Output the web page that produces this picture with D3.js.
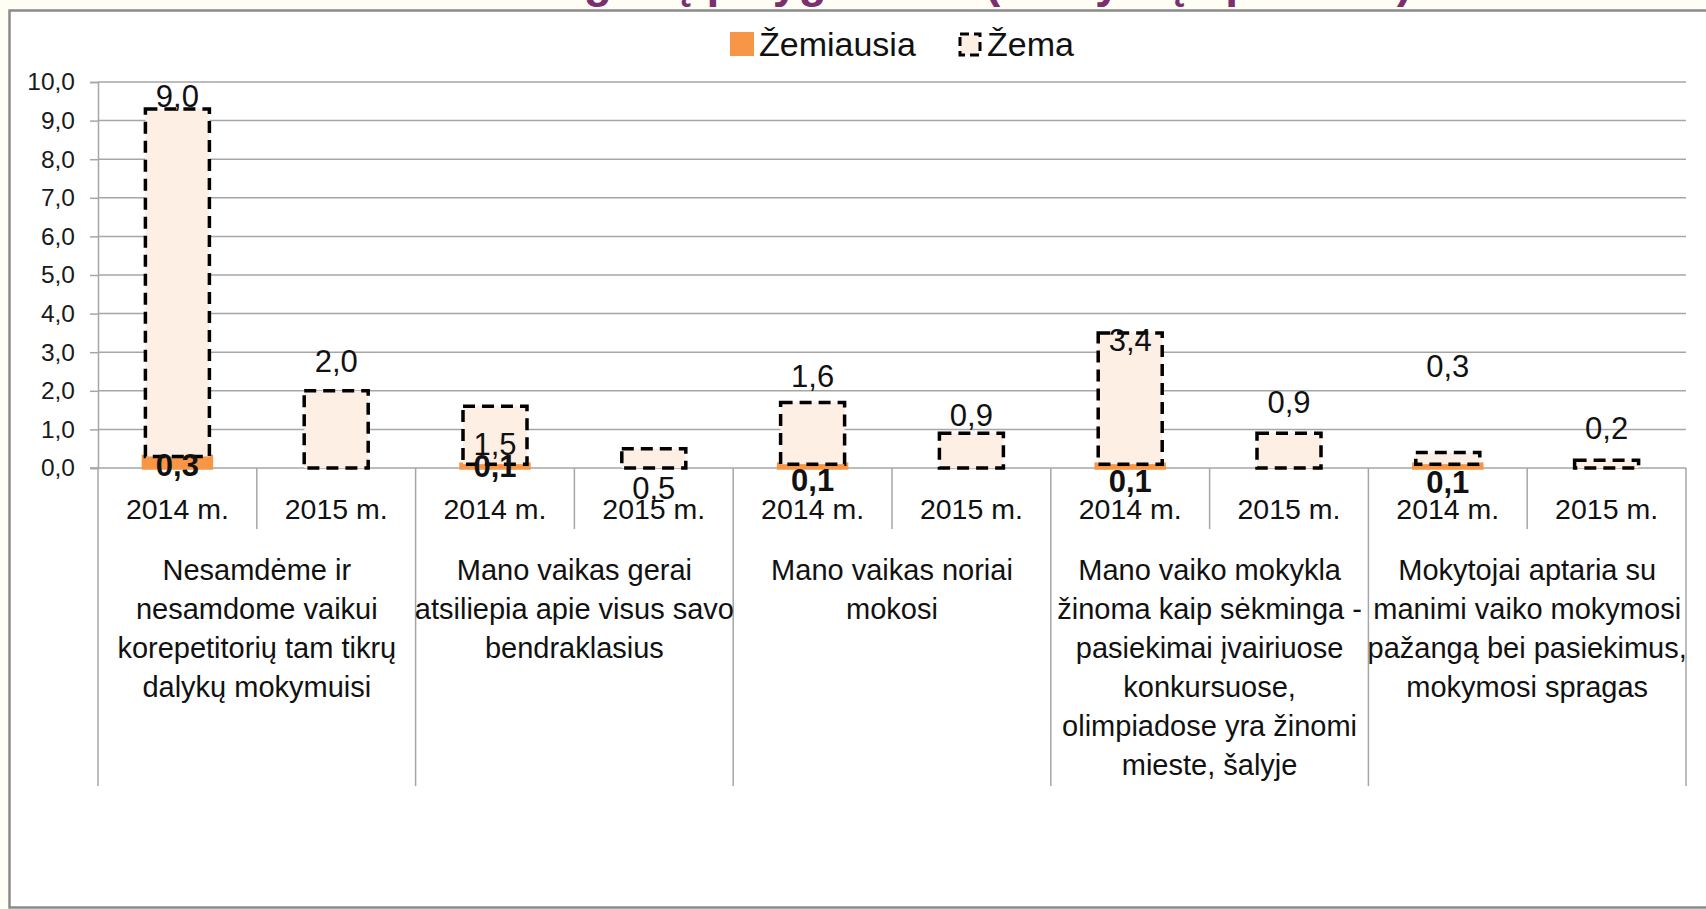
<!DOCTYPE html>
<html><head><meta charset="utf-8">
<script src="https://cdn.jsdelivr.net/npm/d3@7"></script>
<style>html,body{margin:0;padding:0;background:#fefef4;overflow:hidden}</style>
</head><body><svg id="c" width="1706" height="909"></svg>
<script>
// ---------- data ----------
const title = "Žemiausi teiginių palyginimas (mokyklų apklausa)";
const seriesNames = ["Žemiausia", "Žema"];
const years = ["2014 m.", "2015 m."];
const groupLines = [
  ["Nesamdėme ir", "nesamdome vaikui", "korepetitorių tam tikrų", "dalykų mokymuisi"],
  ["Mano vaikas gerai", "atsiliepia apie visus savo", "bendraklasius"],
  ["Mano vaikas noriai", "mokosi"],
  ["Mano vaiko mokykla", "žinoma kaip sėkminga -", "pasiekimai įvairiuose", "konkursuose,", "olimpiadose yra žinomi", "mieste, šalyje"],
  ["Mokytojai aptaria su", "manimi vaiko mokymosi", "pažangą bei pasiekimus,", "mokymosi spragas"]
];
const zemiausia = [0.3, 0, 0.1, 0, 0.1, 0, 0.1, 0, 0.1, 0];
const zema      = [9.0, 2.0, 1.5, 0.5, 1.6, 0.9, 3.4, 0.9, 0.3, 0.2];
const yTicks = [0, 1, 2, 3, 4, 5, 6, 7, 8, 9, 10];

// ---------- layout (label nudges in px, as placed in the original) ----------
const zemaLabelDy = [-13, -30, 38, 39, -27, -18, 7, -31, -87, -32];
const zemiausiaLabelDy = [3, 0, 0, 0, 14, 0, 15, 0, 16, 0];

const colOrange = "#f79646", colPeach = "#fdefe4", gridCol = "#a6a6a6";
const FONT = "'Liberation Sans', Arial, sans-serif";

const svg = d3.select("#c").style("font-family", FONT);
const plotL = 98, plotR = 1686, plotT = 82, plotB = 468;

// chart area
svg.append("rect").attr("x", 9.5).attr("y", 10.5).attr("width", 1740).attr("height", 897)
  .attr("fill", "#fff").attr("stroke", "#8a8a8a").attr("stroke-width", 2.5);

// title (mostly cut off at top)
svg.append("text").attr("x", 1412).attr("y", -3).attr("text-anchor", "end")
  .attr("font-size", 46).attr("font-weight", "bold").attr("fill", "#7b2f6e").text(title);

const slots = d3.range(zema.length);
const x = d3.scaleBand().domain(slots).range([plotL, plotR]).padding(0);
const y = d3.scaleLinear().domain([0, 10]).range([plotB, plotT]);
const barW = 64;
const cx = i => x(i) + x.bandwidth() / 2;

// gridlines
svg.append("g").selectAll("line").data(yTicks.filter(d => d > 0)).join("line")
  .attr("x1", plotL).attr("x2", plotR).attr("y1", d => y(d)).attr("y2", d => y(d))
  .attr("stroke", gridCol).attr("stroke-width", 1.5);

// y axis
const yAxis = d3.axisLeft(y).tickValues(yTicks).tickSize(8).tickPadding(15)
  .tickFormat(d => d3.format(".1f")(d).replace(".", ","));
const ya = svg.append("g").attr("transform", `translate(${plotL},0)`).call(yAxis);
ya.select(".domain").attr("stroke", gridCol).attr("stroke-width", 1.5);
ya.selectAll(".tick line").attr("stroke", gridCol).attr("stroke-width", 1.5);
ya.selectAll(".tick text").attr("font-size", 24.5).attr("fill", "#1a1a1a").attr("font-family", FONT);

// category axis line
svg.append("line").attr("x1", plotL - 8).attr("x2", plotR).attr("y1", plotB).attr("y2", plotB)
  .attr("stroke", gridCol).attr("stroke-width", 1.5);
// separators
const sepX = d3.range(zema.length + 1).map(i => i < zema.length ? x(i) : plotR);
svg.append("g").selectAll("line").data(sepX).join("line")
  .attr("x1", d => d).attr("x2", d => d).attr("y1", plotB)
  .attr("y2", (d, i) => i % 2 === 0 ? 786 : 529)
  .attr("stroke", gridCol).attr("stroke-width", 1.5);

// year labels
svg.append("g").selectAll("text").data(slots).join("text")
  .attr("x", i => cx(i)).attr("y", 518.5).attr("text-anchor", "middle")
  .attr("font-size", 28.5).attr("fill", "#111").text(i => years[i % 2]);

// group labels
groupLines.forEach((lines, g) => {
  const gx = (x(2 * g) + x(2 * g + 1) + x.bandwidth()) / 2;
  svg.append("g").selectAll("text").data(lines).join("text")
    .attr("x", gx).attr("y", (d, k) => 580 + k * 39).attr("text-anchor", "middle")
    .attr("font-size", 29).attr("fill", "#111").text(d => d);
});

// bars: Žemiausia (bottom)
svg.append("g").selectAll("rect").data(slots.filter(i => zemiausia[i] > 0)).join("rect")
  .attr("x", i => cx(i) - barW / 2 - 2).attr("width", barW + 4)
  .attr("y", i => y(zemiausia[i])).attr("height", i => y(0) - y(zemiausia[i]))
  .attr("fill", colOrange).attr("stroke", colOrange).attr("stroke-width", 3.5);

// bars: Žema (stacked)
svg.append("g").selectAll("rect").data(slots).join("rect")
  .attr("x", i => cx(i) - barW / 2).attr("width", barW)
  .attr("y", i => y(zemiausia[i] + zema[i]))
  .attr("height", i => y(zemiausia[i]) - y(zemiausia[i] + zema[i]))
  .attr("fill", colPeach).attr("stroke", "#000").attr("stroke-width", 3.5)
  .attr("stroke-dasharray", "12,7");

const fmt = v => d3.format(".1f")(v).replace(".", ",");

// labels Žema
svg.append("g").selectAll("text").data(slots).join("text")
  .attr("x", i => cx(i))
  .attr("y", i => y(zemiausia[i] + zema[i]) + zemaLabelDy[i])
  .attr("dy", "0.36em").attr("text-anchor", "middle")
  .attr("font-size", 31).attr("fill", "#111").text(i => fmt(zema[i]));

// labels Žemiausia
svg.append("g").selectAll("text").data(slots.filter(i => zemiausia[i] > 0)).join("text")
  .attr("x", i => cx(i))
  .attr("y", i => y(zemiausia[i] / 2) + zemiausiaLabelDy[i])
  .attr("dy", "0.36em").attr("text-anchor", "middle")
  .attr("font-size", 31).attr("font-weight", "bold").attr("fill", "#111").text(i => fmt(zemiausia[i]));

// legend
const lg = svg.append("g");
lg.append("rect").attr("x", 730).attr("y", 32).attr("width", 24).attr("height", 24).attr("fill", colOrange);
lg.append("text").attr("x", 759).attr("y", 56).attr("font-size", 34).attr("fill", "#111").text(seriesNames[0]);
lg.append("rect").attr("x", 960).attr("y", 34).attr("width", 20).attr("height", 21)
  .attr("fill", colPeach).attr("stroke", "#000").attr("stroke-width", 3).attr("stroke-dasharray", "9,5");
lg.append("text").attr("x", 987).attr("y", 56).attr("font-size", 34).attr("fill", "#111").text(seriesNames[1]);
</script></body></html>
